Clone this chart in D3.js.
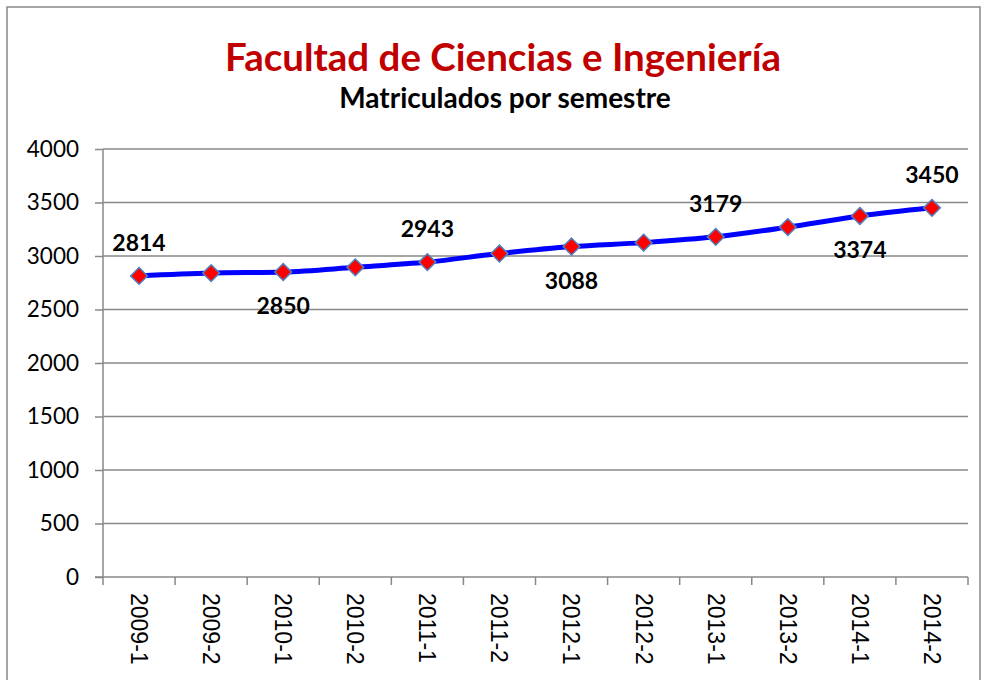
<!DOCTYPE html>
<html>
<head>
<meta charset="utf-8">
<script src="https://cdn.jsdelivr.net/npm/d3@7"></script>
<style>
  body { margin: 0; background: #fff; }
  svg { display: block; }
</style>
</head>
<body>
<svg id="chart" width="984" height="680"></svg>
<script>
/* Data */
let semestres = ["2009-1", "2009-2", "2010-1", "2010-2", "2011-1", "2011-2",
                 "2012-1", "2012-2", "2013-1", "2013-2", "2014-1", "2014-2"];
let matriculados = [2814, 2840, 2850, 2894, 2943, 3023, 3088, 3125, 3179, 3270, 3374, 3450];
// which points carry a label, and on which side
let etiquetas = [null, null, null, null, null, null, null, null, null, null, null, null];
etiquetas[0] = "arriba";
etiquetas[2] = "abajo";
etiquetas[4] = "arriba";
etiquetas[6] = "abajo";
etiquetas[8] = "arriba";
etiquetas[10] = "abajo";
etiquetas[11] = "arriba";
let yTicks = [0, 500, 1000, 1500, 2000, 2500, 3000, 3500, 4000];

let svg = d3.select("#chart");
let gris = "#888888";

let margin = {left: 103, right: 16, top: 149, bottom: 103};
let width = +svg.attr("width");
let height = +svg.attr("height");

// outer chart frame
svg.append("rect")
    .attr("x", 7).attr("y", 7)
    .attr("width", width - 11).attr("height", height + 20)
    .attr("fill", "none")
    .attr("stroke", gris)
    .attr("stroke-width", 1.5);

let x = d3.scaleBand()
    .domain(semestres)
    .range([margin.left, width - margin.right]);

let y = d3.scaleLinear()
    .domain([0, 4000])
    .range([height - margin.bottom, margin.top]);

/* Titles */
svg.append("text")
    .attr("x", 503).attr("y", 71)
    .attr("text-anchor", "middle")
    .style("font-family", "Lato, sans-serif")
    .style("font-weight", "bold")
    .style("font-size", "38.5px")
    .attr("fill", "#C00000")
    .text("Facultad de Ciencias e Ingeniería");

svg.append("text")
    .attr("x", 505).attr("y", 108)
    .attr("text-anchor", "middle")
    .style("font-family", "Lato, sans-serif")
    .style("font-weight", "bold")
    .style("font-size", "28px")
    .attr("fill", "#000")
    .text("Matriculados por semestre");

/* Grid lines */
svg.append("g")
    .selectAll("line")
    .data(yTicks.slice(1))
    .enter().append("line")
    .attr("x1", margin.left).attr("x2", width - margin.right)
    .attr("y1", d => y(d)).attr("y2", d => y(d))
    .attr("stroke", gris)
    .attr("stroke-width", 1.5);

/* Y axis */
let yAxis = svg.append("g")
    .attr("transform", "translate(" + margin.left + ",0)")
    .call(d3.axisLeft(y).tickValues(yTicks).tickSize(8).tickPadding(16).tickFormat(d3.format("d")));
yAxis.selectAll("path, line").attr("stroke", gris).attr("stroke-width", 1.5);
yAxis.select(".domain").attr("d", "M0," + y(4000) + "V" + y(0));
yAxis.selectAll("text")
    .style("font-family", "Lato, sans-serif")
    .style("font-size", "22.5px")
    .attr("fill", "#000");

/* X axis */
let xAxis = svg.append("g")
    .attr("transform", "translate(0," + y(0) + ")");
xAxis.append("line")
    .attr("x1", margin.left - 8).attr("x2", width - margin.right)
    .attr("stroke", gris).attr("stroke-width", 1.5);
xAxis.selectAll(".tick")
    .data(semestres.concat(["__fin"]))
    .enter().append("line")
    .attr("x1", (d, i) => i < semestres.length ? x(d) : x.range()[1])
    .attr("x2", (d, i) => i < semestres.length ? x(d) : x.range()[1])
    .attr("y1", 0).attr("y2", 8)
    .attr("stroke", gris).attr("stroke-width", 1.5);
xAxis.selectAll("text")
    .data(semestres)
    .enter().append("text")
    .attr("transform", d => "translate(" + (x(d) + x.bandwidth() / 2) + ",16) rotate(90)")
    .attr("dy", "0.35em")
    .style("font-family", "'Liberation Sans', Arial, sans-serif")
    .style("font-size", "23px")
    .attr("fill", "#000")
    .text(d => d);

/* Line */
let cx = (d, i) => x(semestres[i]) + x.bandwidth() / 2;
let linea = d3.line()
    .x(cx)
    .y(d => y(d))
    .curve(d3.curveMonotoneX);

svg.append("path")
    .datum(matriculados)
    .attr("d", linea)
    .attr("fill", "none")
    .attr("stroke", "#0000FF")
    .attr("stroke-width", 5)
    .attr("stroke-linejoin", "round");

/* Markers */
svg.append("g")
    .selectAll("path")
    .data(matriculados)
    .enter().append("path")
    .attr("d", d3.symbol().type(d3.symbolDiamond2).size(180))
    .attr("transform", (d, i) => "translate(" + cx(d, i) + "," + y(d) + ")")
    .attr("fill", "#FF0000")
    .attr("stroke", "#4F81BD")
    .attr("stroke-width", 1.5);

/* Data labels */
svg.append("g")
    .selectAll("text")
    .data(matriculados.map((v, i) => ({v: v, i: i, pos: etiquetas[i]})).filter(d => d.pos))
    .enter().append("text")
    .attr("x", d => cx(d.v, d.i))
    .attr("y", d => y(d.v) + (d.pos === "arriba" ? -25 : 42))
    .attr("text-anchor", "middle")
    .style("font-family", "Lato, sans-serif")
    .style("font-weight", "bold")
    .style("font-size", "23px")
    .attr("fill", "#000")
    .text(d => d.v);
</script>
</body>
</html>
